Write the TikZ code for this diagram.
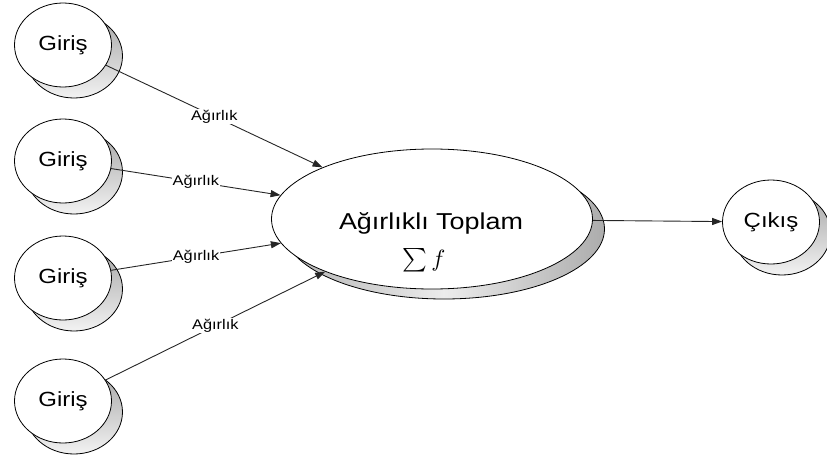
\documentclass[tikz,border=0pt]{standalone}
\usepackage{fontspec}
\setmainfont[FakeStretch=1.17]{Liberation Sans}
\usetikzlibrary{arrows.meta,shapes.geometric,shadows}
\begin{document}
\begin{tikzpicture}[x=1pt,y=-1pt,
  % circular unit with an offset, shaded back disc
  unit/.style={ellipse, draw=black, line width=0.8pt, fill=white,
    minimum width=97pt, minimum height=84pt, inner sep=0pt,
    font=\fontsize{20.5}{24}\selectfont,
    general shadow={shadow xshift=11pt, shadow yshift=-11pt, draw=black,
      line width=0.8pt, top color=gray!70, bottom color=gray!10}},
  summer/.style={ellipse, draw=black, line width=0.8pt, fill=white,
    minimum width=321pt, minimum height=140pt, inner sep=0pt,
    general shadow={shadow xshift=12pt, shadow yshift=-10pt, draw=black,
      line width=0.8pt, left color=gray!60, right color=gray!65, middle color=gray!15}},
  conn/.style={draw=black!85, line width=0.9pt, -{Triangle[length=10pt,width=7pt]}},
  wlab/.style={fill=white, inner sep=0.8pt, font=\fontsize{14}{16}\selectfont},
  txt/.style={inner sep=0pt}
]
\useasboundingbox (0,0) rectangle (827,463);

% inputs
\node[unit] (g1) at (63,45)  {Giriş};
\node[unit] (g2) at (63,161) {Giriş};
\node[unit] (g3) at (63,278) {Giriş};
\node[unit] (g4) at (63,401) {Giriş};

% weighted sum
\node[summer] (sum) at (432,219) {};
\node[txt, anchor=base, font=\fontsize{23}{26}\selectfont] (sumtitle) at (431,229) {Ağırlıklı Toplam};
\node[txt, anchor=base, scale=2.35] (sumformula) at (424,266) {$\sum f$};

% output
\node[unit] (out) at (771,222) {Çıkış};

% weighted connections
\draw[conn] (g1) -- node[wlab] (w1) {Ağırlık} (sum);
\draw[conn] (g2) -- node[wlab] (w2) {Ağırlık} (sum);
\draw[conn] (g3) -- node[wlab] (w3) {Ağırlık} (sum);
\draw[conn] (g4) -- node[wlab] (w4) {Ağırlık} (sum);
\draw[conn] (sum) -- (out);
\end{tikzpicture}
\end{document}
